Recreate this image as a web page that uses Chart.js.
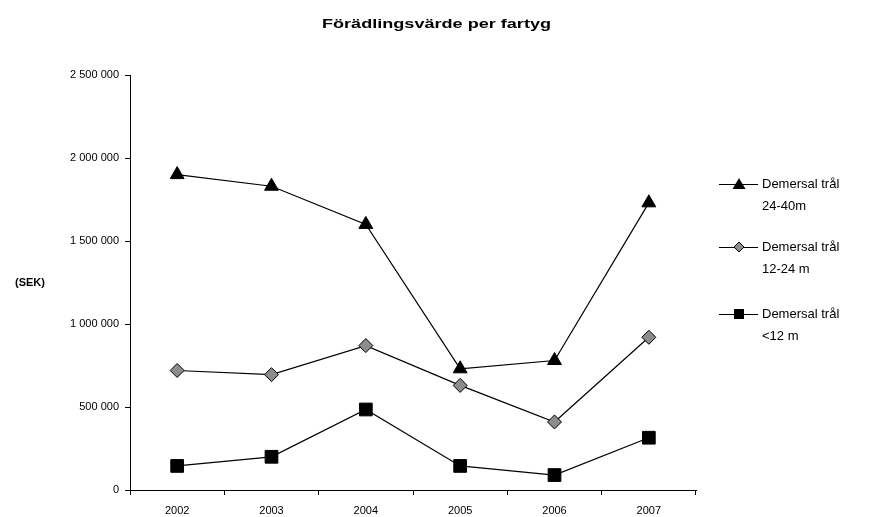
<!DOCTYPE html>
<html>
<head>
<meta charset="utf-8">
<script src="https://cdn.jsdelivr.net/npm/chart.js@4/dist/chart.umd.min.js"></script>
<style>
  html, body { margin: 0; padding: 0; background: #fff; }
  #wrap { width: 869px; height: 517px; }
</style>
</head>
<body>
<div id="wrap"><canvas id="chart" width="869" height="517"></canvas></div>
<script>
// data
const years = ["2002", "2003", "2004", "2005", "2006", "2007"];
const tral24_40 = [1900000, 1830000, 1600000, 730000, 780000, 1730000];
const tral12_24 = [720000, 695000, 870000, 630000, 410000, 920000];
const tralUnder12 = [145000, 200000, 485000, 145000, 90000, 315000];
const seriesNames = [["Demersal trål", "24-40m"], ["Demersal trål", "12-24 m"], ["Demersal trål", "<12 m"]];
const yTicks = [0, 500000, 1000000, 1500000, 2000000, 2500000];
const titleText = "Förädlingsvärde per fartyg";

const font = "'Liberation Sans', Arial, sans-serif";

function fmt(v) {
    return String(v).replace(/\B(?=(\d{3})+(?!\d))/g, " ");
}

// title, y label and legend drawn by hand
const extras = {
    id: "extras",
    afterDraw(chart) {
        const ctx = chart.ctx;
        ctx.save();
        ctx.fillStyle = "#000";

        // title is stretched wide in the original
        ctx.save();
        ctx.font = "bold 12px " + font;
        ctx.textAlign = "center";
        ctx.textBaseline = "alphabetic";
        const w = ctx.measureText(titleText).width;
        const sx = 229 / w;
        ctx.translate(436.5, 28);
        ctx.scale(sx, 1);
        ctx.fillText(titleText, 0, 0);
        ctx.restore();

        ctx.font = "bold 11px " + font;
        ctx.textAlign = "center";
        ctx.textBaseline = "middle";
        ctx.fillText("(SEK)", 30, 283);

        const rows = [184, 247, 314];
        const styles = ["triangle", "rectRot", "rect"];
        ctx.font = "13px " + font;
        ctx.textAlign = "left";
        rows.forEach((y, i) => {
            ctx.strokeStyle = "#000";
            ctx.lineWidth = 1;
            ctx.beginPath();
            ctx.moveTo(719, y + 0.5);
            ctx.lineTo(758, y + 0.5);
            ctx.stroke();
            const x = 739;
            ctx.beginPath();
            if (styles[i] === "triangle") {
                ctx.moveTo(x, y - 6);
                ctx.lineTo(x + 6.5, y + 5);
                ctx.lineTo(x - 6.5, y + 5);
                ctx.closePath();
                ctx.fillStyle = "#000";
                ctx.fill();
            } else if (styles[i] === "rectRot") {
                ctx.moveTo(x, y - 5);
                ctx.lineTo(x + 5, y);
                ctx.lineTo(x, y + 5);
                ctx.lineTo(x - 5, y);
                ctx.closePath();
                ctx.fillStyle = "#8c8c8c";
                ctx.fill();
                ctx.stroke();
            } else {
                ctx.rect(x - 5, y - 5, 10, 10);
                ctx.fillStyle = "#000";
                ctx.fill();
            }
            ctx.fillStyle = "#000";
            ctx.fillText(seriesNames[i][0], 762, y);
            ctx.fillText(seriesNames[i][1], 762, y + 22);
        });
        ctx.restore();
    }
};

new Chart(document.getElementById("chart").getContext("2d"), {
    type: "line",
    data: {
        labels: years,
        datasets: [{
            label: seriesNames[0].join(" "),
            data: tral24_40,
            borderColor: "#000",
            borderWidth: 1.2,
            pointStyle: "triangle",
            pointRadius: 8,
            pointBackgroundColor: "#000",
            pointBorderColor: "#000",
            pointBorderWidth: 1
        }, {
            label: seriesNames[1].join(" "),
            data: tral12_24,
            borderColor: "#000",
            borderWidth: 1.2,
            pointStyle: "rectRot",
            pointRadius: 7,
            pointBackgroundColor: "#8c8c8c",
            pointBorderColor: "#000",
            pointBorderWidth: 1
        }, {
            label: seriesNames[2].join(" "),
            data: tralUnder12,
            borderColor: "#000",
            borderWidth: 1.2,
            pointStyle: "rect",
            pointRadius: 9,
            pointBackgroundColor: "#000",
            pointBorderColor: "#000",
            pointBorderWidth: 1
        }]
    },
    options: {
        responsive: false,
        animation: false,
        layout: { padding: { left: 0, right: 173, top: 75, bottom: 0 } },
        plugins: {
            legend: { display: false },
            tooltip: { enabled: false },
            title: { display: false }
        },
        scales: {
            x: {
                offset: true,
                grid: { offset: true, drawOnChartArea: false, drawTicks: true, tickLength: 5, color: "#000" },
                border: { color: "#000", width: 1 },
                ticks: { color: "#000", font: { family: font, size: 11 }, padding: 9, maxRotation: 0 },
                afterFit: s => { s.height = 27; }
            },
            y: {
                min: 0,
                max: 2500000,
                afterBuildTicks: s => { s.ticks = yTicks.map(v => ({ value: v })); },
                grid: { drawOnChartArea: false, drawTicks: true, tickLength: 5, color: "#000" },
                border: { color: "#000", width: 1 },
                ticks: { color: "#000", font: { family: font, size: 11 }, padding: 6, callback: v => fmt(v) },
                afterFit: s => { s.width = 130; }
            }
        }
    },
    plugins: [extras]
});
</script>
</body>
</html>
